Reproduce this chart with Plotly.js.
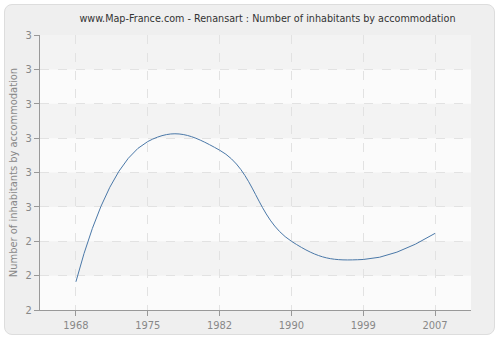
<!DOCTYPE html>
<html>
<head>
<meta charset="utf-8">
<script src="https://cdn.plot.ly/plotly-3.0.1.min.js"></script>
<style>
html,body{margin:0;padding:0;background:#ffffff;}
#frame{position:absolute;left:4px;top:4px;width:489px;height:329px;background:#efefef;border:1px solid #dddddd;border-radius:8px;}
#chart{position:absolute;left:0;top:0;width:500px;height:340px;}
</style>
</head>
<body>
<div id="frame"></div>
<div id="chart"></div>
<script>
var years = ['1968', '1975', '1982', '1990', '1999', '2007'];
var inhabitants = [2.282, 2.69, 2.665, 2.40, 2.347, 2.423];
var yTickValues = [2.2, 2.3, 2.4, 2.5, 2.6, 2.7, 2.8, 2.9, 3.0];
var yTickLabels = ['2', '2', '2', '3', '3', '3', '3', '3', '3'];

var shapes = [];
for (var i = 0; i < yTickValues.length - 1; i++) {
  if ((yTickValues.length - 2 - i) % 2 === 0) {
    shapes.push({type: 'rect', xref: 'paper', yref: 'y', x0: 0, x1: 1,
      y0: yTickValues[i], y1: yTickValues[i + 1], fillcolor: '#f3f3f3',
      line: {width: 0}, layer: 'below'});
  }
}

var trace = {
  x: years, y: inhabitants, type: 'scatter', mode: 'lines',
  line: {shape: 'spline', smoothing: 1.3, color: '#4a78a8', width: 1},
  hoverinfo: 'x+y'
};

var fam = 'DejaVu Sans Condensed, DejaVu Sans, sans-serif';
var layout = {
  width: 500, height: 340,
  margin: {l: 40, r: 29, t: 35, b: 30},
  paper_bgcolor: 'rgba(0,0,0,0)',
  plot_bgcolor: '#fbfbfb',
  showlegend: false,
  font: {family: fam, size: 11, color: '#888888'},
  title: {text: 'www.Map-France.com - Renansart : Number of inhabitants by accommodation',
    font: {family: fam, size: 10.7, color: '#333333'},
    x: 0.535, xanchor: 'center', y: 0.947, yanchor: 'middle'},
  xaxis: {type: 'category', range: [-0.5, 5.5], showgrid: true, gridcolor: '#e2e2e2',
    griddash: 'dash', gridwidth: 1, showline: true, linecolor: '#999999', linewidth: 1,
    ticks: 'outside', ticklen: 5, tickcolor: '#999999', tickfont: {family: fam, size: 11, color: '#888888'},
    zeroline: false, fixedrange: true},
  yaxis: {range: [2.2, 3.0], tickvals: yTickValues, ticktext: yTickLabels,
    showgrid: true, gridcolor: '#e2e2e2', griddash: 'dash', gridwidth: 1,
    showline: true, linecolor: '#999999', linewidth: 1, ticks: 'outside', ticklen: 5,
    tickcolor: '#999999', tickfont: {family: fam, size: 11, color: '#888888'}, zeroline: false,
    title: {text: 'Number of inhabitants by accommodation', font: {family: fam, size: 11, color: '#888888'}, standoff: 5},
    fixedrange: true},
  shapes: shapes
};

Plotly.newPlot('chart', [trace], layout, {displayModeBar: false, staticPlot: true});
</script>
</body>
</html>
